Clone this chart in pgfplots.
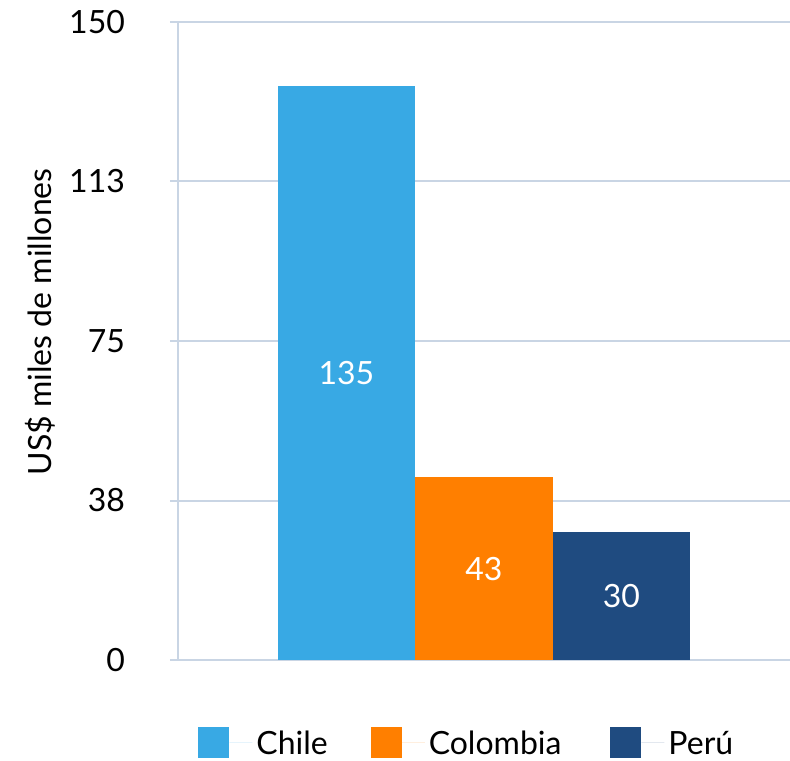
\documentclass[border=0pt]{standalone}
\usepackage{fontspec}
\setmainfont{Lato}
\usepackage{pgfplots}
\pgfplotsset{compat=1.18}
\definecolor{cChile}{HTML}{38A9E4}
\definecolor{cCol}{HTML}{FF7F00}
\definecolor{cPeru}{HTML}{1F4B80}
\definecolor{gridc}{HTML}{C9D5E4}
\begin{document}
\begin{tikzpicture}
\useasboundingbox (-89pt,-50pt) rectangle (306pt,330pt);
\begin{axis}[
  at={(0,0)}, anchor=south west,
  scale only axis, width=306pt, height=319pt,
  font=\fontsize{16}{19}\selectfont,
  /pgf/number format/assume math mode=true,
  ybar, bar width=1, bar shift=0pt,
  xmin=-1.225, xmax=3.226, ymin=0, ymax=150,
  axis lines*=left,
  x axis line style={draw=none},
  y axis line style={draw=gridc, line width=1pt},
  xtick=\empty,
  ytick={0,37.5,75,112.5,150},
  yticklabels={0,38,75,113,150},
  ytick align=outside, major tick length=4pt,
  y tick style={draw=gridc, line width=1pt},
  yticklabel style={anchor=east, xshift=-19pt},
  ymajorgrids, grid style={draw=gridc, line width=1pt},
  ylabel={US\$ miles de millones},
  every axis y label/.style={at={(axis description cs:-0.225,0.53)}, rotate=90, anchor=center},
  legend style={at={(axis description cs:0.0327,-0.130)}, anchor=west, draw=none, fill=none,
    inner sep=0pt,
    legend columns=3, font=\fontsize{16}{19}\selectfont,
    /tikz/every even column/.append style={column sep=19.5pt},
    nodes={inner sep=2pt, text depth=0pt}},
  legend image code/.code={\fill[#1] (0pt,-7.75pt) rectangle (15.5pt,7.75pt);\path (15.5pt,0) -- (27pt,0);},
  nodes near coords,
  visualization depends on=y \as \rawy,
  every node near coord/.append style={anchor=center, text=white, font=\fontsize{16}{19}\selectfont,
    shift={(axis direction cs:0,-\rawy/2)}},
]
\addplot[fill=cChile, draw=none] coordinates {(0,135)};
\addlegendentry{Chile}
\addplot[fill=cCol, draw=none] coordinates {(1,43)};
\addlegendentry{Colombia\rule{3pt}{0pt}}
\addplot[fill=cPeru, draw=none] coordinates {(2,30)};
\addlegendentry{Perú}
\end{axis}
\end{tikzpicture}
\end{document}
